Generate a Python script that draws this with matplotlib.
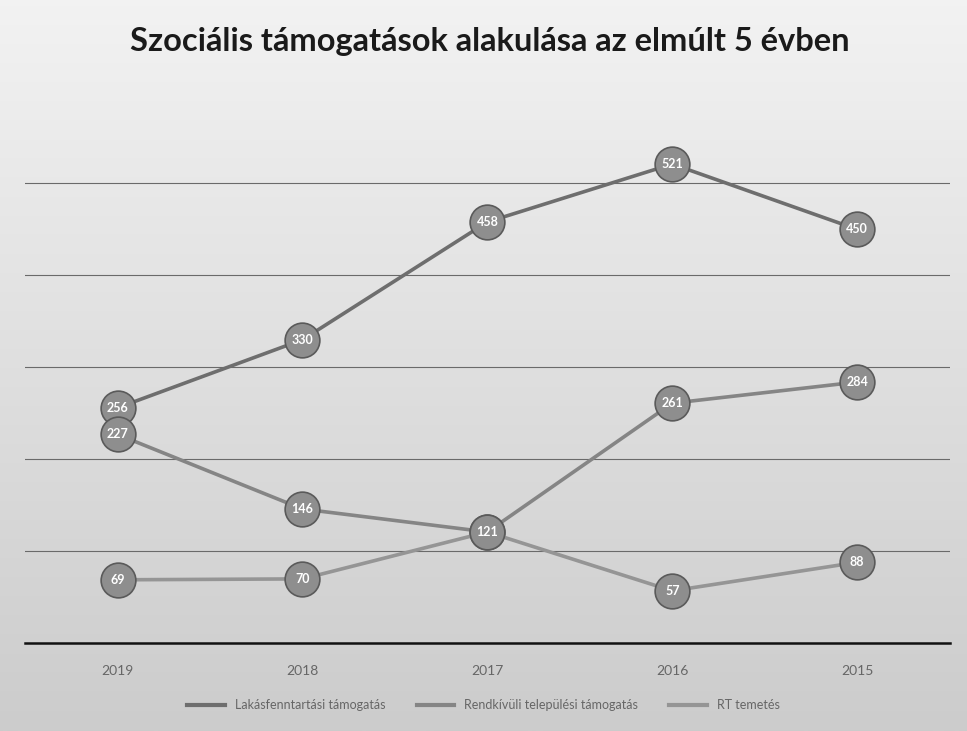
import numpy as np
import matplotlib
matplotlib.use('Agg')
import matplotlib.pyplot as plt
from matplotlib.lines import Line2D

# adatok
evek = ['2019', '2018', '2017', '2016', '2015']
lakasfenntartasi = [256, 330, 458, 521, 450]
rendkivuli = [227, 146, 121, 261, 284]
rt_temetes = [69, 70, 121, 57, 88]
sorozat_nevek = ['Lakásfenntartási támogatás', 'Rendkívüli települési támogatás', 'RT temetés']

plt.rcParams['font.family'] = ['Lato', 'DejaVu Sans']

fig = plt.figure(figsize=(9.67, 7.31), dpi=100)

# hatter: szurke atmenet mint a szkennelt kepen (fent vilagos, lent sotetebb)
bg = fig.add_axes([0, 0, 1, 1], zorder=-10)
t = np.linspace(0, 1, 256).reshape(-1, 1)
szurke = 0.95 - 0.15 * t
kep = np.dstack([szurke, szurke, szurke])
bg.imshow(kep, aspect='auto', extent=[0, 1, 0, 1])
bg.axis('off')

ax = fig.add_axes([0.026, 0.120, 0.956, 0.755])
ax.patch.set_alpha(0)

x = np.arange(len(evek))
szinek = ['#6e6e6e', '#858585', '#959595']
sorozatok = [lakasfenntartasi, rendkivuli, rt_temetes]

kiirt = set()
for adat, szin, nev in zip(sorozatok, szinek, sorozat_nevek):
    ax.plot(x, adat, color=szin, lw=2.6, marker='o', markersize=25,
            markerfacecolor='#8e8e8e', markeredgecolor='#5a5a5a', markeredgewidth=1.2,
            label=nev, zorder=3)
    for xi, v in zip(x, adat):
        if (xi, v) in kiirt:
            continue
        kiirt.add((xi, v))
        ax.text(xi, v, str(v), ha='center', va='center', color='white',
                fontsize=9, fontweight='bold', zorder=4)

ax.set_xlim(-0.5, 4.5)
ax.set_ylim(0, 600)
ax.set_yticks([100, 200, 300, 400, 500])
ax.yaxis.grid(True, color='#6a6a6a', lw=0.8)
ax.set_axisbelow(True)
ax.tick_params(axis='y', left=False, labelleft=False)
ax.tick_params(axis='x', bottom=False, colors='#666666', labelsize=10, pad=12)
ax.set_xticks(x)
ax.set_xticklabels(evek)
for s in ['top', 'right', 'left']:
    ax.spines[s].set_visible(False)
ax.spines['bottom'].set_color('#111111')
ax.spines['bottom'].set_linewidth(1.8)

kezelok = [Line2D([0], [0], color=c, lw=3) for c in szinek]
fig.legend(kezelok, sorozat_nevek, loc='center', bbox_to_anchor=(0.5, 0.035),
           ncol=3, frameon=False, fontsize=9, labelcolor='#666666',
           handlelength=3, columnspacing=2.5)

fig.text(0.507, 0.943, 'Szociális támogatások alakulása az elmúlt 5 évben',
         ha='center', va='center', fontsize=23.5, fontweight='bold', color='#1a1a1a')

fig.savefig('out.png', dpi=100)
